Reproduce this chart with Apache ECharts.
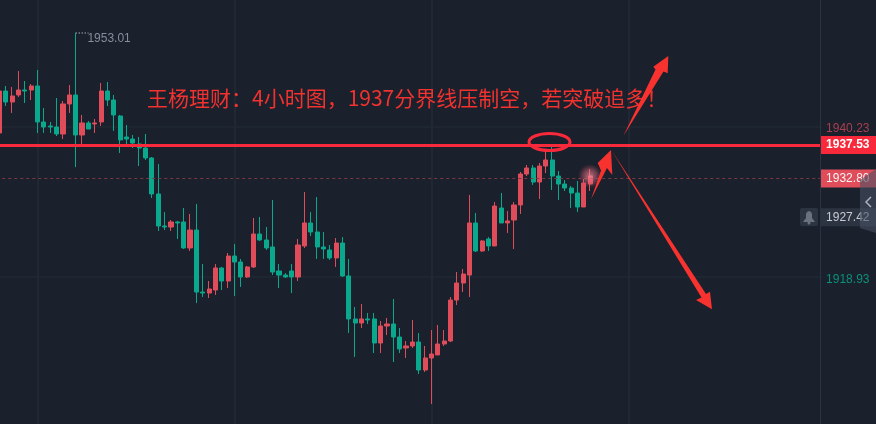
<!DOCTYPE html>
<html><head><meta charset="utf-8">
<style>html,body{margin:0;padding:0;background:#1a202c;overflow:hidden;width:876px;height:424px}#c{position:absolute;left:-20px;top:0;width:896px;height:424px}</style>
<script src="https://cdn.jsdelivr.net/npm/echarts@6/dist/echarts.min.js"></script>
</head><body><div id="c"></div>
<script>
const opens=[1939.12,1944.95,1943.42,1944.40,1945.09,1945.09,1945.65,1940.65,1940.09,1939.95,1938.98,1943.15,1944.40,1938.84,1940.51,1940.37,1940.65,1944.95,1943.70,1941.48,1938.56,1938.28,1937.59,1937.03,1935.65,1930.65,1926.20,1926.06,1926.76,1926.76,1923.15,1925.64,1917.03,1916.89,1917.31,1920.37,1918.56,1922.03,1921.20,1919.12,1920.51,1925.09,1924.26,1923.29,1919.95,1919.39,1919.95,1919.12,1923.43,1926.62,1925.37,1923.29,1922.87,1921.76,1923.84,1919.26,1913.29,1912.73,1913.29,1913.29,1909.95,1912.31,1912.59,1910.78,1909.26,1909.54,1910.09,1906.20,1907.87,1908.29,1909.81,1910.23,1915.92,1918.28,1919.39,1926.62,1922.73,1924.40,1923.43,1928.70,1926.62,1927.03,1929.12,1933.42,1934.26,1932.31,1934.53,1935.37,1933.14,1932.03,1931.48,1930.78,1928.84,1932.03];
const closes=[1944.95,1943.42,1944.26,1945.09,1944.95,1945.65,1940.65,1939.95,1939.95,1938.98,1943.15,1944.40,1938.84,1940.51,1939.67,1940.51,1944.95,1943.70,1941.62,1938.15,1938.28,1937.73,1937.03,1935.65,1930.65,1926.20,1926.06,1926.76,1926.62,1923.15,1925.64,1917.03,1916.89,1917.45,1920.37,1918.56,1922.03,1921.20,1919.12,1920.51,1925.09,1924.26,1923.15,1919.81,1919.39,1919.12,1919.12,1923.56,1926.62,1925.37,1923.29,1923.01,1921.76,1923.84,1919.26,1913.29,1912.73,1913.29,1913.15,1909.95,1912.31,1912.59,1910.78,1909.12,1909.54,1910.09,1906.20,1907.87,1908.42,1909.81,1910.23,1915.92,1918.28,1919.53,1926.62,1922.73,1924.12,1923.43,1928.98,1926.62,1926.90,1929.12,1933.42,1934.26,1932.31,1934.53,1935.37,1933.14,1932.03,1931.48,1930.78,1928.84,1932.17,1933.14];
const lows=[1939.12,1942.87,1941.90,1944.12,1943.28,1943.70,1939.12,1939.12,1939.12,1938.70,1938.28,1941.90,1934.39,1937.45,1939.67,1939.12,1940.09,1942.87,1939.40,1936.34,1937.45,1937.03,1934.53,1935.37,1930.09,1925.51,1925.64,1925.51,1924.40,1923.01,1922.73,1915.50,1916.34,1916.20,1916.62,1917.31,1917.59,1916.48,1917.73,1918.98,1920.37,1924.12,1922.87,1919.39,1917.59,1918.98,1916.89,1918.56,1923.15,1924.81,1921.62,1921.62,1921.48,1920.51,1919.12,1911.34,1908.01,1912.03,1912.59,1908.56,1908.56,1911.06,1907.31,1908.56,1907.87,1909.26,1905.64,1905.92,1901.48,1908.29,1909.54,1910.09,1915.23,1917.03,1916.34,1922.59,1922.59,1922.73,1923.43,1926.62,1925.23,1923.01,1927.87,1933.14,1931.90,1929.95,1933.56,1931.20,1929.81,1931.06,1928.70,1928.14,1928.84,1931.06];
const highs=[1944.95,1945.65,1945.51,1947.73,1946.34,1945.92,1947.87,1942.59,1940.65,1943.98,1943.56,1945.78,1953.01,1941.62,1940.78,1941.06,1946.06,1946.20,1944.40,1941.62,1940.23,1938.84,1938.56,1938.98,1935.78,1934.81,1928.14,1927.03,1926.90,1928.70,1927.87,1929.26,1920.92,1918.56,1920.92,1920.51,1922.45,1923.70,1921.62,1920.64,1927.31,1927.45,1926.06,1929.81,1920.92,1919.67,1920.92,1924.40,1930.92,1928.14,1930.23,1925.37,1923.56,1924.53,1924.67,1921.62,1914.95,1915.36,1914.12,1914.12,1913.01,1913.43,1916.06,1912.03,1910.23,1913.15,1911.34,1909.54,1911.76,1912.45,1911.76,1916.34,1919.81,1920.23,1930.51,1928.01,1924.26,1924.67,1929.53,1930.78,1928.28,1929.53,1933.70,1934.67,1934.67,1934.95,1936.76,1937.45,1933.84,1932.59,1931.76,1932.45,1932.73,1934.12];
const slotCount=130;
const categories=[];for(let i=0;i<slotCount;i++)categories.push(String(i));
const gridPrices=[1940.02,1919.12];
const gridSlots=[6,37,68,99];
const priceLabels={high:'1953.01',upper:'1940.23',line:'1937.53',last:'1932.80',alert:'1927.42',lower:'1918.93'};
const linePrice=1937.45;
const title='王杨理财：4小时图，1937分界线压制空，若突破追多！';
const FONT='"Liberation Sans",Arial,sans-serif';
const RED='#e04c5a',GREEN='#0aa88c',LINE='#f7293a',BG='#1a202c',GRID='#202833',ARROW='#f8332f';
const candles=opens.map((o,i)=>[o,closes[i],lows[i],highs[i]]);
const lab=(text,o)=>Object.assign({show:true,position:'end',distance:-2,formatter:text,fontFamily:FONT,fontSize:12,width:50,height:12,lineHeight:12,align:'left',verticalAlign:'middle',padding:[3,0,3,6]},o);
const none={color:'rgba(0,0,0,0)',width:0};
const gridData=[
 ...gridSlots.map(s=>({xAxis:s,lineStyle:{color:GRID,width:2,type:'solid'},label:{show:false}})),
 {yAxis:gridPrices[0],lineStyle:{color:GRID,width:1.5,type:'solid'},label:lab(priceLabels.upper,{color:'#a83f4d',offset:[0,2]})},
 {yAxis:gridPrices[1],lineStyle:{color:GRID,width:1.5,type:'solid'},label:lab(priceLabels.lower,{color:'#0b9179',offset:[0,3]})}];
const markData=[
 {yAxis:+priceLabels.last,lineStyle:{color:'#7c3744',width:1,type:[3,3]},label:lab(priceLabels.last,{color:'#f3f3f3',backgroundColor:RED})},
 {yAxis:+priceLabels.alert,lineStyle:none,label:lab(priceLabels.alert,{color:'#c8ccd4',backgroundColor:'#2c3442'})},
 {yAxis:linePrice,lineStyle:{color:LINE,width:3,type:'solid'},label:lab(priceLabels.line,{color:'#fff',backgroundColor:LINE,fontWeight:'bold'})},
 [{coord:[12,+priceLabels.high],lineStyle:{color:'#7f8794',width:2,type:[1,2]},label:{show:true,position:'end',distance:-1,formatter:priceLabels.high,color:'#868e9c',fontFamily:FONT,fontSize:12,offset:[0,6]}},{coord:[14,+priceLabels.high]}]
];
const chart=echarts.init(document.getElementById('c'),null,{renderer:'canvas'});
chart.setOption({
 animation:false,backgroundColor:BG,
 grid:{left:16.27,right:53.9,top:0,bottom:0},
 xAxis:{type:'category',data:categories,boundaryGap:true,show:false},
 yAxis:{type:'value',position:'right',min:1898.7,max:1957.59,show:false,scale:true},
 series:[
  {type:'line',data:[],z:1,silent:true,markLine:{z:1,silent:true,symbol:'none',animation:false,data:gridData}},
  {type:'candlestick',data:candles,z:10,barWidth:4.6,clip:false,
  itemStyle:{color:RED,color0:GREEN,borderColor:RED,borderColor0:GREEN,borderWidth:1},
  markLine:{z:20,silent:true,symbol:'none',animation:false,precision:2,data:markData}}],
 graphic:[{type:'group',x:20,y:0,silent:true,children:[
  {type:'line',silent:true,shape:{x1:820.5,y1:0,x2:820.5,y2:424},style:{stroke:'#2a3342',lineWidth:1},z:50},
  {type:'polygon',silent:true,shape:{points:[[876,169],[860,180],[860,228],[876,233]]},style:{fill:'rgba(72,82,98,0.6)'},z:60},
  {type:'polyline',silent:true,shape:{points:[[871,197],[866,202],[871,207]]},style:{stroke:'#aab1bc',lineWidth:1.5,fill:null},z:61},
  {type:'rect',silent:true,shape:{x:800,y:208,width:18,height:18,r:2},style:{fill:'#2c3442'},z:60},
  {type:'polygon',silent:true,shape:{points:[[809,211],[811,212],[812,214],[812,218],[815,222],[803,222],[806,218],[806,214],[807,212]]},style:{fill:'#69727f'},z:61},
  {type:'circle',silent:true,shape:{cx:809,cy:223,r:1.5},style:{fill:'#69727f'},z:61},
  {type:'circle',silent:true,shape:{cx:590,cy:176,r:12},style:{fill:{type:'radial',x:0.5,y:0.5,r:0.5,colorStops:[{offset:0,color:'rgba(245,140,155,0.75)'},{offset:0.55,color:'rgba(235,110,130,0.4)'},{offset:1,color:'rgba(224,76,90,0)'}]}},z:55},
  {type:'text',silent:true,x:147,y:87.5,style:{text:title,fill:'#f2322f',font:'21px "Noto Sans CJK SC"'},z:70},
  {type:'ellipse',silent:true,shape:{cx:549.5,cy:142,rx:20.5,ry:8.5},style:{stroke:LINE,lineWidth:3,fill:null},z:71},
  {type:'polygon',silent:true,shape:{points:[[623.3,136],[655.5,69.5],[653.3,66.7],[668.3,56],[667.7,73.3],[663.5,71.5]]},style:{fill:ARROW},z:72},
  {type:'polygon',silent:true,shape:{points:[[591,199.3],[601,170.5],[597.7,163],[611,150],[612.3,175],[607,168]]},style:{fill:ARROW},z:72},
  {type:'polygon',silent:true,shape:{points:[[611,149.5],[701.5,297.5],[696,300],[712,309.3],[710,291.7],[706,294]]},style:{fill:ARROW},z:72}
 ]}]
});
</script></body></html>
